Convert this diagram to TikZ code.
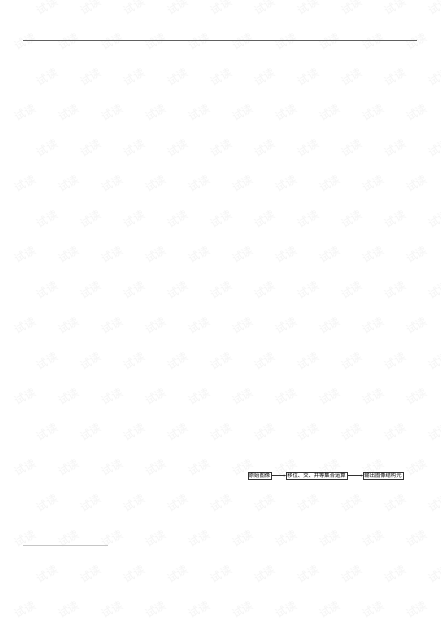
\documentclass[tikz,border=0pt]{standalone}
\usepackage{fontspec}
\newfontfamily\cjk{Noto Sans CJK SC}
\usetikzlibrary{arrows.meta, positioning}

\tikzset{
	wmark/.style={text=gray!9, font=\cjk\fontsize{11}{11}\selectfont, rotate=30, inner sep=0pt},
	flowbox/.style={draw=black!80, line width=0.4pt, font=\cjk\fontsize{5.3}{5.3}\selectfont, inner xsep=1.2pt, inner ysep=0.8pt, minimum height=7pt},
	flowarrow/.style={-{Stealth[length=2.2pt,width=1.8pt]}, line width=0.4pt, black!80}
}

\begin{document}
\begin{tikzpicture}[x=1pt, y=-1pt]
	\useasboundingbox (0,0) rectangle (440,620);
	\fill[white] (0,0) rectangle (440,620);

	%%%% watermark
	\foreach \r in {0,...,17} {
		\foreach \c in {0,...,10} {
			\pgfmathsetmacro{\wx}{47 + 43.5*\c - 22*mod(\r,2)}
			\pgfmathsetmacro{\wy}{6 + 35.5*\r}
			\node[wmark] at (\wx,\wy) {试读};
		}
	}
	%%%%%%

	%%%% header rule
	\draw[gray!75!black, line width=0.9pt] (23,40.7)--(417,40.7);

	%%%% flow
	\node[flowbox] (src) at (259.5,475.5) {原始图像};
	\node[flowbox] (ops) at (316.5,475.5) {移位、交、并等集合运算};
	\node[flowbox] (out) at (383,475.5) {输出图像结构元};

	\draw[flowarrow] (src)--(ops);
	\draw[flowarrow] (ops)--(out);
	%%%%%%

	%%%% footnote rule
	\draw[gray!45, line width=0.7pt] (23,545)--(108,545);
\end{tikzpicture}
\end{document}
